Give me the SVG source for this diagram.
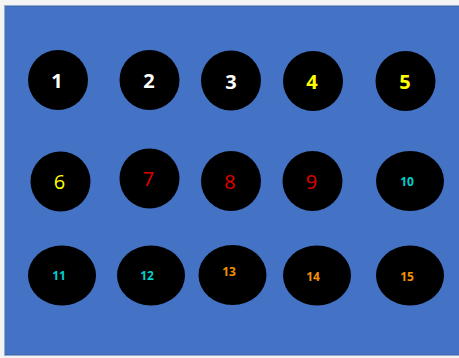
<svg xmlns="http://www.w3.org/2000/svg" width="459" height="358" viewBox="0 0 459 358">
<style>
.n{fill:#000;}
.t{font-family:"Open Sans","Liberation Sans",sans-serif;text-anchor:middle;dominant-baseline:central;}
.big{font-size:20px;}
.bb{font-weight:bold;}
.sm{font-size:12px;font-weight:bold;}
.w{fill:#fff;}.y{fill:#ffff00;}.r{fill:#e00000;}.c{fill:#00d0d0;}.o{fill:#f09000;}
</style>
<rect x="0" y="0" width="459" height="358" fill="#f4f4f4"/>
<rect x="4.5" y="6" width="460" height="349" fill="#4472c4" stroke="#3a62aa" stroke-width="1"/>
<line x1="4.5" y1="6" x2="4.5" y2="355" stroke="#9aa8c0" stroke-width="1"/>
<g id="connectors"></g>
<g id="node1"><circle class="n" cx="58" cy="80" r="30"/><text class="t big bb w" x="57" y="80">1</text></g>
<g id="node2"><circle class="n" cx="149.5" cy="80" r="30"/><text class="t big bb w" x="149" y="80">2</text></g>
<g id="node3"><circle class="n" cx="231" cy="80.5" r="30"/><text class="t big bb w" x="231" y="81">3</text></g>
<g id="node4"><circle class="n" cx="313" cy="81" r="30"/><text class="t big bb y" x="312" y="81">4</text></g>
<g id="node5"><circle class="n" cx="405.5" cy="81" r="30"/><text class="t big bb y" x="405" y="81">5</text></g>
<g id="node6"><circle class="n" cx="60.5" cy="181.5" r="30"/><text class="t big y" x="59.5" y="181.5">6</text></g>
<g id="node7"><circle class="n" cx="149.5" cy="178.5" r="30"/><text class="t big r" x="148.5" y="178.5">7</text></g>
<g id="node8"><circle class="n" cx="231" cy="181" r="30"/><text class="t big r" x="230" y="181">8</text></g>
<g id="node9"><circle class="n" cx="312.5" cy="181" r="30"/><text class="t big r" x="311.5" y="181">9</text></g>
<g id="node10"><ellipse class="n" cx="410" cy="181" rx="34" ry="30"/><text class="t sm c" x="407" y="181">10</text></g>
<g id="node11"><ellipse class="n" cx="62" cy="275.5" rx="34" ry="30"/><text class="t sm c" x="59" y="275.5">11</text></g>
<g id="node12"><ellipse class="n" cx="151" cy="275.5" rx="34" ry="30"/><text class="t sm c" x="147" y="275.5">12</text></g>
<g id="node13"><ellipse class="n" cx="232.5" cy="275" rx="34" ry="30"/><text class="t sm o" x="229" y="271">13</text></g>
<g id="node14"><ellipse class="n" cx="317" cy="275.5" rx="34" ry="30"/><text class="t sm o" x="313" y="276.5">14</text></g>
<g id="node15"><ellipse class="n" cx="410" cy="275.5" rx="34" ry="30"/><text class="t sm o" x="407" y="276">15</text></g>
</svg>
